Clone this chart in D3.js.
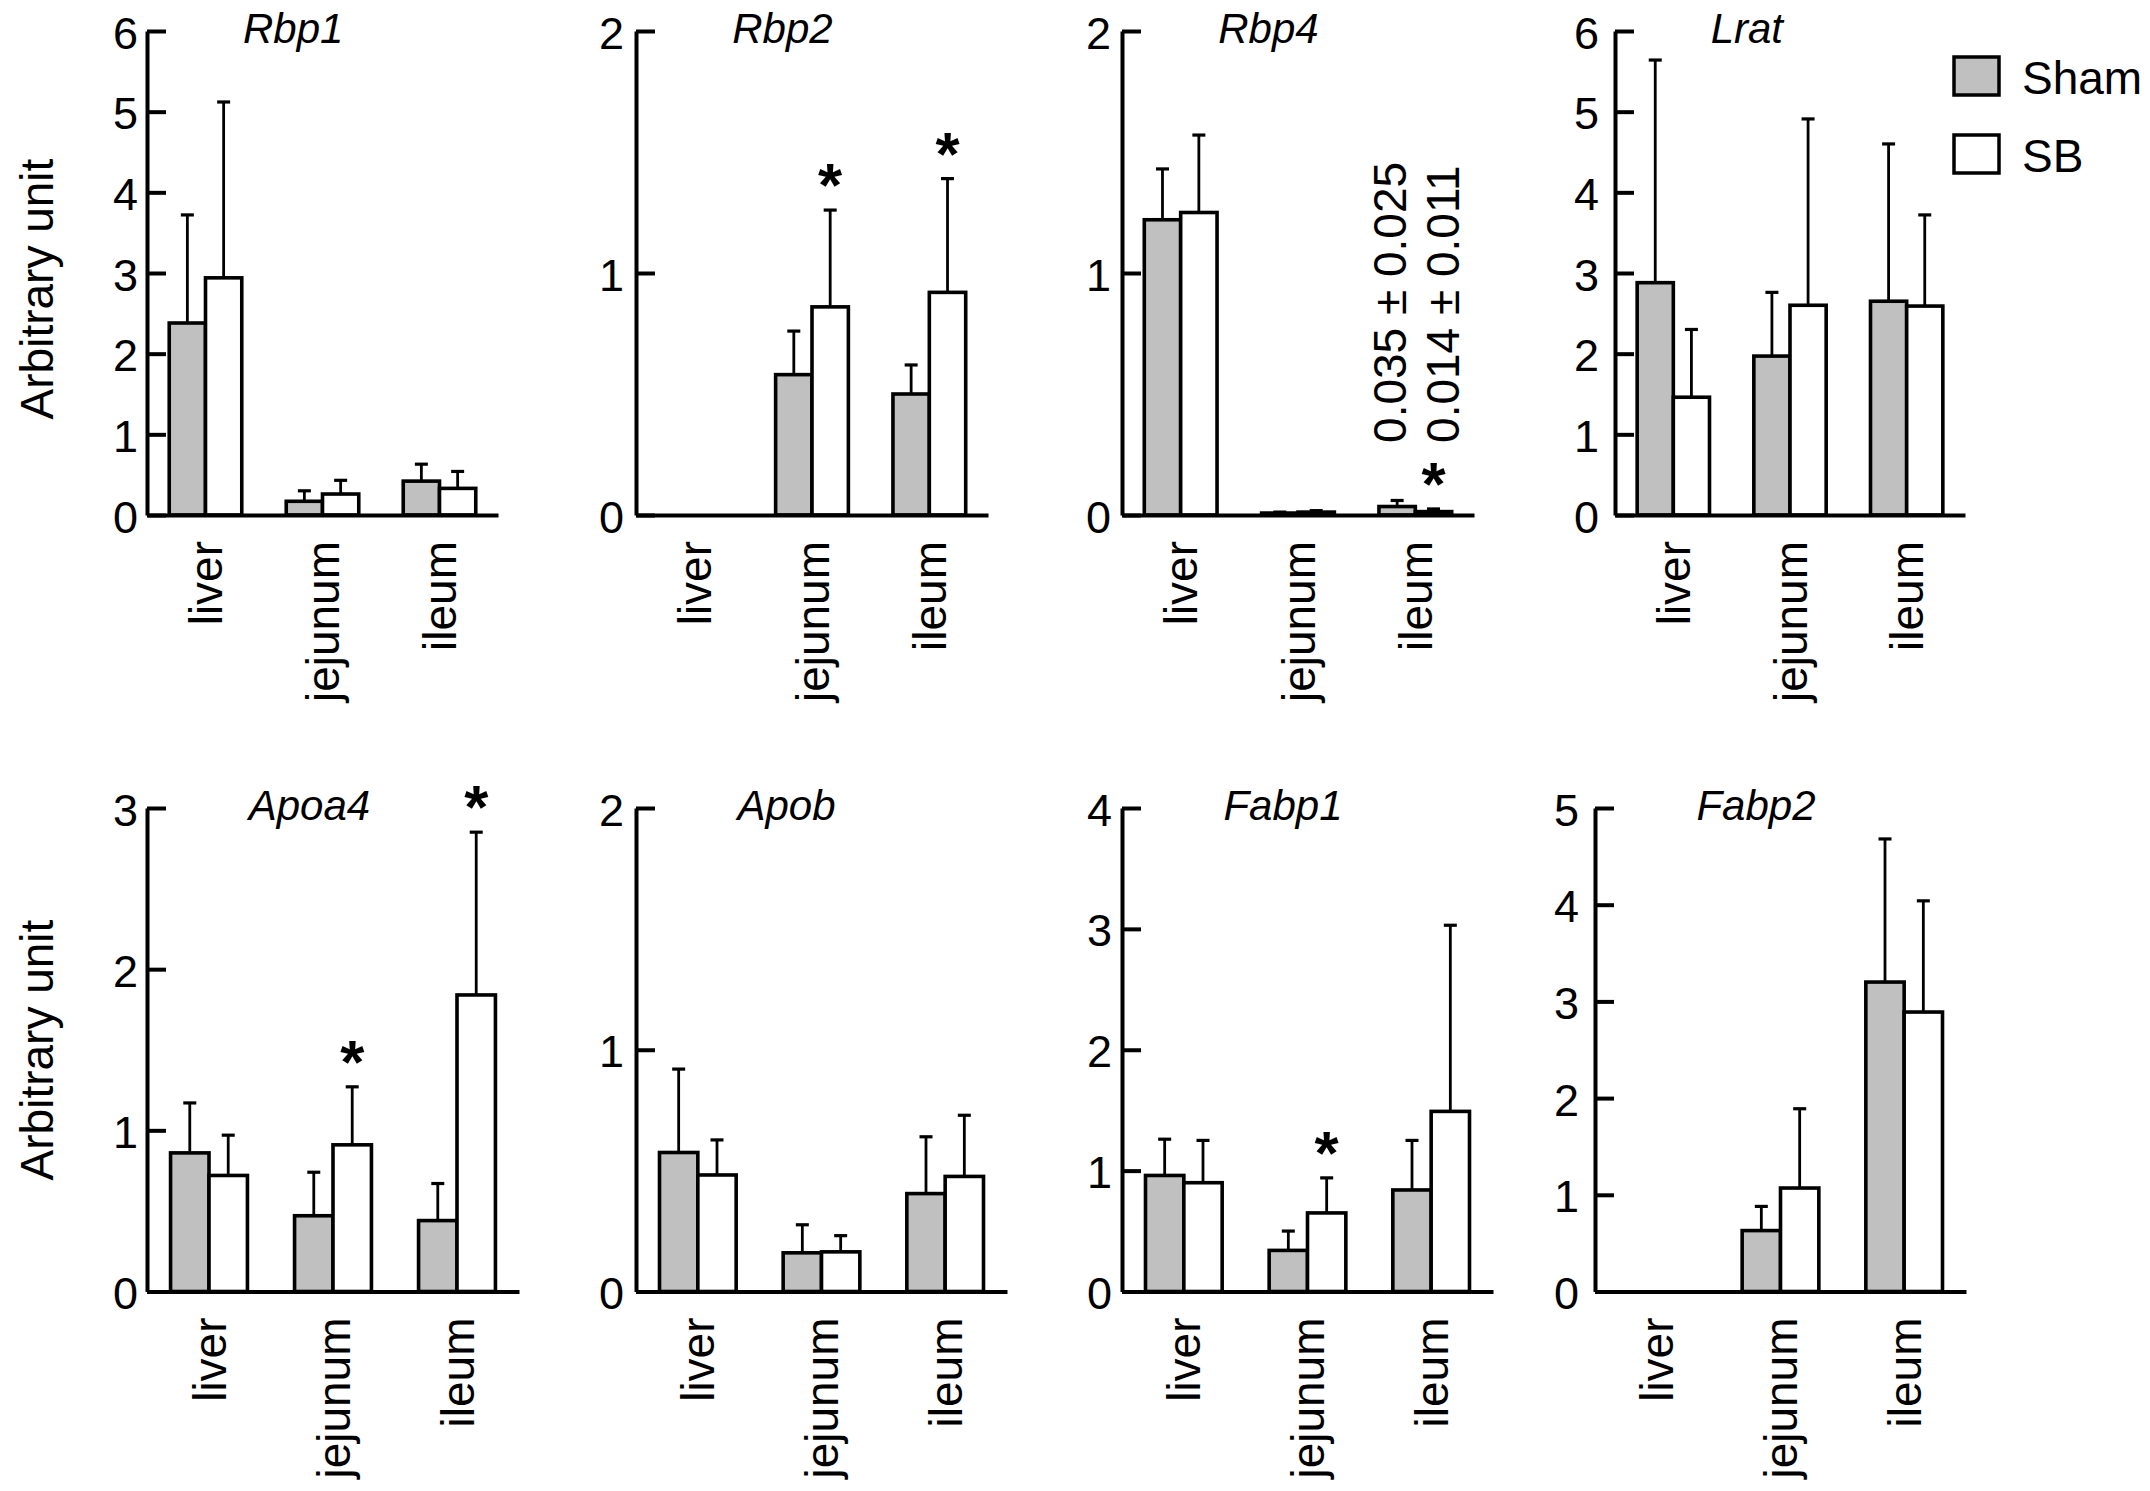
<!DOCTYPE html>
<html>
<head>
<meta charset="utf-8">
<script src="https://cdn.jsdelivr.net/npm/d3@7"></script>
<style>
  body { margin: 0; background: #fff; }
  svg { display: block; }
  text { font-family: "Liberation Sans", Arial, sans-serif; fill: #000; }
</style>
</head>
<body>
<svg id="fig"></svg>
<script>
// Gene expression panels: Sham vs SB in liver / jejunum / ileum (mean + SD)

const GENES = ["Rbp1", "Rbp2", "Rbp4", "Lrat", "Apoa4", "Apob", "Fabp1", "Fabp2"];
const TISSUES = ["liver", "jejunum", "ileum"];
const GROUPS = ["Sham", "SB"];
const Y_MAX = [6, 2, 2, 6, 3, 2, 4, 5];
const Y_LABEL = "Arbitrary unit";

// one row per gene, one value per tissue
const SHAM_MEAN = [
  [2.38, 0.17, 0.42],
  [0, 0.58, 0.50],
  [1.22, 0.008, 0.035],
  [2.88, 1.97, 2.65],
  [0.86, 0.47, 0.44],
  [0.575, 0.16, 0.405],
  [0.96, 0.34, 0.84],
  [0, 0.63, 3.20],
];
const SHAM_ERR = [
  [1.34, 0.13, 0.21],
  [0, 0.18, 0.12],
  [0.21, 0.004, 0.025],
  [2.76, 0.79, 1.95],
  [0.31, 0.27, 0.23],
  [0.345, 0.116, 0.235],
  [0.30, 0.16, 0.41],
  [0, 0.25, 1.48],
];
const SB_MEAN = [
  [2.94, 0.26, 0.33],
  [0, 0.86, 0.92],
  [1.25, 0.012, 0.014],
  [1.46, 2.60, 2.59],
  [0.72, 0.91, 1.84],
  [0.482, 0.164, 0.476],
  [0.90, 0.65, 1.49],
  [0, 1.07, 2.89],
];
const SB_ERR = [
  [2.18, 0.17, 0.21],
  [0, 0.40, 0.47],
  [0.32, 0.006, 0.011],
  [0.84, 2.31, 1.13],
  [0.25, 0.36, 1.01],
  [0.145, 0.067, 0.253],
  [0.35, 0.29, 1.54],
  [0, 0.82, 1.15],
];
// significance marks on SB bars
const SB_STAR = [
  [0, 0, 0],
  [0, 1, 1],
  [0, 0, 1],
  [0, 0, 0],
  [0, 1, 1],
  [0, 0, 0],
  [0, 1, 0],
  [0, 0, 0],
];
// Rbp4 ileum values are too small to see, so they are written out
const RBP4_NOTE = ["0.035 ± 0.025", "0.014 ± 0.011"];

// --- layout ---
const W = 2150, H = 1491;
const ROWS = [
  { top: 31, bottom: 515, labelY: 289 },
  { top: 808, bottom: 1291.5, labelY: 1050 },
];
const PANELS = [
  { x: 147, w: 351, row: 0, pad: 9 },
  { x: 636, w: 352, row: 0, pad: 12 },
  { x: 1122, w: 352, row: 0, pad: 11 },
  { x: 1615, w: 350, row: 0, pad: 16 },
  { x: 147, w: 372, row: 1, pad: 9 },
  { x: 636, w: 371, row: 1, pad: 12 },
  { x: 1122, w: 371, row: 1, pad: 10 },
  { x: 1595, w: 371, row: 1, pad: 16 },
];
const FILL = { Sham: "#c0c0c0", SB: "#ffffff" };
const FONT = 46;
const TICK_FONT = 45;
const AXIS_W = 4;

const svg = d3.select("#fig").attr("width", W).attr("height", H);
svg.append("rect").attr("width", W).attr("height", H).attr("fill", "#fff");

GENES.forEach((gene, i) => {
  const p = PANELS[i];
  const r = ROWS[p.row];
  const g = svg.append("g").attr("class", "panel");

  const x = d3.scaleBand().domain(TISSUES).range([p.x, p.x + p.w]);
  const pairW = x.step() * 0.62;
  const inner = d3.scaleBand().domain(GROUPS).range([0, pairW]);
  const off = (x.bandwidth() - pairW) / 2;
  const y = d3.scaleLinear().domain([0, Y_MAX[i]]).range([r.bottom, r.top]);

  const cells = [];
  TISSUES.forEach((t, j) => {
    cells.push({ t, grp: "Sham", m: SHAM_MEAN[i][j], e: SHAM_ERR[i][j], star: 0 });
    cells.push({ t, grp: "SB", m: SB_MEAN[i][j], e: SB_ERR[i][j], star: SB_STAR[i][j] });
  });
  const bx = d => x(d.t) + off + inner(d.grp);
  const cx = d => bx(d) + inner.bandwidth() / 2;

  // error bars (upper only)
  const eb = cells.filter(d => d.e > 0);
  g.selectAll("line.err").data(eb).join("line")
    .attr("class", "err")
    .attr("x1", cx).attr("x2", cx)
    .attr("y1", d => y(d.m)).attr("y2", d => y(d.m + d.e))
    .attr("stroke", "#000").attr("stroke-width", 2.8);
  g.selectAll("line.cap").data(eb).join("line")
    .attr("class", "cap")
    .attr("x1", d => cx(d) - 6.5).attr("x2", d => cx(d) + 6.5)
    .attr("y1", d => y(d.m + d.e)).attr("y2", d => y(d.m + d.e))
    .attr("stroke", "#000").attr("stroke-width", 3.2);

  // bars
  g.selectAll("rect.bar").data(cells).join("rect")
    .attr("class", "bar")
    .attr("x", bx)
    .attr("y", d => y(d.m))
    .attr("width", inner.bandwidth())
    .attr("height", d => y(0) - y(d.m))
    .attr("fill", d => FILL[d.grp])
    .attr("stroke", "#000")
    .attr("stroke-width", 3.6);

  // stars
  g.selectAll("text.star").data(cells.filter(d => d.star)).join("text")
    .attr("class", "star")
    .attr("x", cx)
    .attr("y", d => y(d.m + d.e) - 37 + 33)
    .attr("text-anchor", "middle")
    .attr("font-size", 62)
    .attr("font-weight", "bold")
    .text("*");

  // y axis, ticks pointing inward
  const ya = g.append("g")
    .attr("transform", `translate(${p.x},0)`)
    .call(d3.axisLeft(y)
      .tickValues(d3.range(0, Y_MAX[i] + 1))
      .tickSizeInner(-19).tickSizeOuter(0)
      .tickPadding(p.pad)
      .tickFormat(d3.format("d")));
  ya.select(".domain").attr("stroke-width", AXIS_W);
  ya.selectAll(".tick line").attr("stroke-width", AXIS_W);
  ya.selectAll(".tick text")
    .attr("font-size", TICK_FONT)
    .attr("font-family", null)
    .attr("dy", "0.38em");

  // x axis with rotated tissue labels
  const xa = g.append("g")
    .attr("transform", `translate(0,${r.bottom})`)
    .call(d3.axisBottom(x).tickSize(0).tickSizeOuter(0));
  xa.select(".domain").attr("stroke-width", AXIS_W);
  xa.selectAll(".tick text")
    .attr("font-size", FONT)
    .attr("font-family", null)
    .attr("transform", "rotate(-90)")
    .attr("text-anchor", "end")
    .attr("x", -26)
    .attr("y", 0)
    .attr("dy", "0.36em");

  // gene title
  g.append("text")
    .attr("x", p.x + x.step() * 0.82)
    .attr("y", r.top + 12)
    .attr("font-size", 42)
    .attr("font-style", "italic")
    .text(gene);

  if (p.x < 300) {
    g.append("text")
      .attr("transform", `translate(53,${r.labelY}) rotate(-90)`)
      .attr("text-anchor", "middle")
      .attr("font-size", FONT)
      .text(Y_LABEL);
  }

  if (gene === "Rbp4") {
    const ileum = cells.filter(d => d.t === "ileum");
    const startY = y(ileum[1].m + ileum[1].e) - 66;
    const shift = [-7, 9];
    g.selectAll("text.note").data(ileum).join("text")
      .attr("class", "note")
      .attr("transform", (d, k) => `translate(${cx(d) + shift[k] + 16},${startY}) rotate(-90)`)
      .attr("font-size", FONT)
      .text((d, k) => RBP4_NOTE[k]);
  }
});

// legend
const legend = svg.append("g").attr("transform", "translate(1954,57)");
GROUPS.forEach((grp, k) => {
  legend.append("rect")
    .attr("x", 0).attr("y", k * 78)
    .attr("width", 45).attr("height", 38)
    .attr("fill", FILL[grp]).attr("stroke", "#000").attr("stroke-width", 3.5);
  legend.append("text")
    .attr("x", 68).attr("y", k * 78 + 37)
    .attr("font-size", FONT)
    .text(grp);
});
</script>
</body>
</html>
